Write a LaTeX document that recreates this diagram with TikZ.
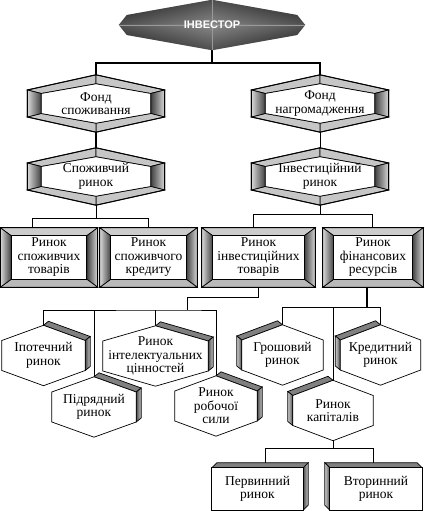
\documentclass[tikz,border=0pt]{standalone}
\usepackage{fontspec}
\setmainfont{Liberation Serif}
\newfontfamily\invfont{Liberation Sans}
\usetikzlibrary{calc, backgrounds}

\begin{document}
\begin{tikzpicture}[
    x=1pt, y=1pt,
    every node/.style={align=center, inner sep=0pt, font=\fontsize{13.5}{13.5}\selectfont},
    topnode/.style={rectangle, minimum width=186pt, minimum height=50pt, text=white, font={\invfont\bfseries\fontsize{11}{12}\selectfont}},
    hexframe/.style={rectangle, minimum width=137pt, minimum height=57pt},
    framebox/.style={rectangle, minimum height=59pt},
    hexcell/.style={rectangle, minimum height=60pt},
    flatbox/.style={rectangle, minimum height=42pt},
    link/.style={line width=0.8pt},
    thicklink/.style={line width=1.6pt},
    rim/.style={draw=black, line width=0.7pt},
    band/.style={rim, fill=gray!45}
]
    \useasboundingbox (0,0) rectangle (425,511);

    % Investor at the top
    \node[topnode] (inv) at (212,486) {ІНВЕСТОР};

    % Funds
    \node[hexframe] (fs) at (96,407.5) {Фонд\\споживання};
    \node[hexframe] (fn) at (320,407.5) {Фонд\\нагромадження};

    % Markets of the second level
    \node[hexframe] (sr) at (96,334.5) {Споживчий\\ринок};
    \node[hexframe] (ir) at (320,334.5) {Інвестиційний\\ринок};

    % Framed boxes
    \node[framebox, minimum width=97pt] (rst) at (49,253.5) {Ринок\\споживчих\\товарів};
    \node[framebox, minimum width=97pt] (rsk) at (148.5,253.5) {Ринок\\споживчого\\кредиту};
    \node[framebox, minimum width=113pt] (rit) at (258.5,253.5) {Ринок\\інвестиційних\\товарів};
    \node[framebox, minimum width=100pt] (rfr) at (373,253.5) {Ринок\\фінансових\\ресурсів};

    % Hexagon cells
    \node[hexcell, minimum width=83pt] (ipo) at (43.5,155.5) {Іпотечний\\ринок};
    \node[hexcell, minimum width=105pt] (rinc) at (155.5,155) {Ринок\\інтелектуальних\\цінностей};
    \node[hexcell, minimum width=84pt] (pid) at (94,104) {Підрядний\\ринок};
    \node[hexcell, minimum width=82pt] (rrs) at (216,105) {Ринок\\робочої\\сили};
    \node[hexcell, minimum width=81pt] (gro) at (282.5,156) {Грошовий\\ринок};
    \node[hexcell, minimum width=80pt] (kre) at (380.5,156) {Кредитний\\ринок};
    \node[hexcell, minimum width=80pt] (rka) at (333,100.5) {Ринок\\капіталів};

    % Bottom boxes
    \node[flatbox, minimum width=91pt] (per) at (257.5,22) {Первинний\\ринок};
    \node[flatbox, minimum width=92pt] (vto) at (376,22) {Вторинний\\ринок};

    \begin{scope}[on background layer]
        % Connectors
        \draw[thicklink] (inv.south) -- ++(0,-13) coordinate (invbus);
        \draw[thicklink] (fs.north) |- (invbus) -| (fn.north);
        \draw[thicklink] (fs.south) -- (sr.north);
        \draw[link] (fn.south) -- (ir.north);

        \draw[link] (sr.south) -- ++(0,-13) coordinate (srbus);
        \draw[link] ([xshift=-17pt]rst.north) |- (srbus) -| (rsk.north);
        \draw[link] (ir.south) -- ++(0,-9) coordinate (irbus);
        \draw[link] ([xshift=-5.5pt]rit.north) |- (irbus) -| ([xshift=-1pt]rfr.north);

        \coordinate (ritbus) at (187,201);
        \draw[link] (rit.south) -- ++(0,-10) -| (ritbus);
        \draw[link] (ipo.north) |- (ritbus) -| (rrs.north);
        \draw[link] (pid.north) -- (pid.north |- ritbus);
        \draw[link] (rinc.north) -- (rinc.north |- ritbus);

        \draw[thicklink] ([xshift=-6pt]rfr.south) -- ++(0,-20) coordinate (rfrbus);
        \draw[link] (gro.north) |- (rfrbus) -| (kre.north);
        \draw[link] (rka.north) -- (rka.north |- rfrbus);

        \draw[link] (rka.south) -- ++(0,-7.5) coordinate (rkabus);
        \draw[link] ([xshift=7.5pt]per.north) |- (rkabus) -| ([xshift=-3pt]vto.north);

        % Dark diamond
        \begin{scope}
            \clip (inv.west) -- ($(inv.west)+(8,10)$) -- (inv.north) -- ($(inv.east)+(-8,10)$) -- (inv.east)
                -- ($(inv.east)+(-8,-10)$) -- (inv.south) -- ($(inv.west)+(8,-10)$) -- cycle;
            \shade[top color=black!85, bottom color=black!50] (inv.north west) rectangle (inv.east);
            \shade[top color=black!50, bottom color=black!85] (inv.west) rectangle (inv.south east);
            \shade[left color=black, right color=black!40, opacity=0.35] (inv.south west) rectangle (inv.north);
            \shade[left color=black!40, right color=black, opacity=0.35] (inv.south) rectangle (inv.north east);
            \draw[black!40, line width=0.8pt] (inv.north) -- (inv.south) (inv.west) -- (inv.east);
        \end{scope}

        % Hexagonal frames
        \foreach \n in {fs,fn,sr,ir} {
            \path ($(\n.west)+(0,13.5)$) coordinate (a1) (\n.north) coordinate (a2)
                ($(\n.east)+(0,13.5)$) coordinate (a3) ($(\n.east)+(0,-13.5)$) coordinate (a4)
                (\n.south) coordinate (a5) ($(\n.west)+(0,-13.5)$) coordinate (a6)
                ($(\n.west)+(14,10)$) coordinate (b1) ($(\n.north)+(0,-9)$) coordinate (b2)
                ($(\n.east)+(-14,10)$) coordinate (b3) ($(\n.east)+(-14,-10)$) coordinate (b4)
                ($(\n.south)+(0,9)$) coordinate (b5) ($(\n.west)+(14,-10)$) coordinate (b6);
            \filldraw[band] (a1) -- (a2) -- (b2) -- (b1) -- cycle;
            \filldraw[band] (a2) -- (a3) -- (b3) -- (b2) -- cycle;
            \shadedraw[rim, left color=black!75, right color=gray!30] (a3) -- (a4) -- (b4) -- (b3) -- cycle;
            \filldraw[band] (a4) -- (a5) -- (b5) -- (b4) -- cycle;
            \filldraw[band] (a5) -- (a6) -- (b6) -- (b5) -- cycle;
            \shadedraw[rim, left color=gray!30, right color=black!75] (a6) -- (a1) -- (b1) -- (b6) -- cycle;
            \filldraw[rim, fill=white] (b1) -- (b2) -- (b3) -- (b4) -- (b5) -- (b6) -- cycle;
            \draw[line width=1pt] (a1) -- (a2) -- (a3) -- (a4) -- (a5) -- (a6) -- cycle;
        }

        % Rectangular frames
        \foreach \n in {rst,rsk,rit,rfr} {
            \path (\n.north west) coordinate (a1) (\n.north east) coordinate (a2)
                (\n.south east) coordinate (a3) (\n.south west) coordinate (a4)
                ($(\n.north west)+(11,-8)$) coordinate (b1) ($(\n.north east)+(-11,-8)$) coordinate (b2)
                ($(\n.south east)+(-11,8)$) coordinate (b3) ($(\n.south west)+(11,8)$) coordinate (b4);
            \filldraw[band, fill=gray!40] (a1) -- (a2) -- (b2) -- (b1) -- cycle;
            \shadedraw[rim, left color=black!75, right color=gray!30] (a2) -- (a3) -- (b3) -- (b2) -- cycle;
            \filldraw[band, fill=gray!55] (a3) -- (a4) -- (b4) -- (b3) -- cycle;
            \shadedraw[rim, left color=gray!30, right color=black!75] (a4) -- (a1) -- (b1) -- (b4) -- cycle;
            \filldraw[rim, fill=white] (b1) rectangle (b3);
            \draw[line width=1pt] (a1) rectangle (a3);
        }

        % Hexagon cells, depth to the right
        \foreach \n in {ipo,rinc,pid,rrs} {
            \path (\n.north) coordinate (c1) ($(\n.east)+(0,15)$) coordinate (c2)
                ($(\n.east)+(0,-15)$) coordinate (c3) (\n.south) coordinate (c4)
                ($(\n.west)+(0,-15)$) coordinate (c5) ($(\n.west)+(0,15)$) coordinate (c6);
            \filldraw[band, fill=gray] (c1) -- (c2) -- ++(5,4) -- ($(c1)+(5,4)$) -- cycle;
            \shadedraw[rim, left color=black!70, right color=gray!40] (c2) -- (c3) -- ++(5,4) -- ($(c2)+(5,4)$) -- cycle;
            \filldraw[rim, fill=white] (c1) -- (c2) -- (c3) -- (c4) -- (c5) -- (c6) -- cycle;
        }

        % Hexagon cells, depth to the left
        \foreach \n in {gro,kre,rka} {
            \path (\n.north) coordinate (c1) ($(\n.east)+(0,15)$) coordinate (c2)
                ($(\n.east)+(0,-15)$) coordinate (c3) (\n.south) coordinate (c4)
                ($(\n.west)+(0,-15)$) coordinate (c5) ($(\n.west)+(0,15)$) coordinate (c6);
            \filldraw[band, fill=gray] (c6) -- (c1) -- ++(-5,4) -- ($(c6)+(-5,4)$) -- cycle;
            \shadedraw[rim, left color=gray!40, right color=black!70] (c5) -- (c6) -- ++(-5,4) -- ($(c5)+(-5,4)$) -- cycle;
            \filldraw[rim, fill=white] (c1) -- (c2) -- (c3) -- (c4) -- (c5) -- (c6) -- cycle;
        }

        % Bottom boxes with depth
        \filldraw[band, fill=gray] (per.north west) -- (per.north east) -- ++(5,5) -- ($(per.north west)+(5,5)$) -- cycle;
        \shadedraw[rim, left color=black!70, right color=gray!40] (per.north east) -- (per.south east) -- ++(5,5) -- ($(per.north east)+(5,5)$) -- cycle;
        \filldraw[rim, fill=white] (per.north west) rectangle (per.south east);

        \filldraw[band, fill=gray] (vto.north west) -- (vto.north east) -- ++(-5,5) -- ($(vto.north west)+(-5,5)$) -- cycle;
        \shadedraw[rim, left color=gray!40, right color=black!70] (vto.south west) -- (vto.north west) -- ++(-5,5) -- ($(vto.south west)+(-5,5)$) -- cycle;
        \filldraw[rim, fill=white] (vto.north west) rectangle (vto.south east);
    \end{scope}
\end{tikzpicture}
\end{document}
